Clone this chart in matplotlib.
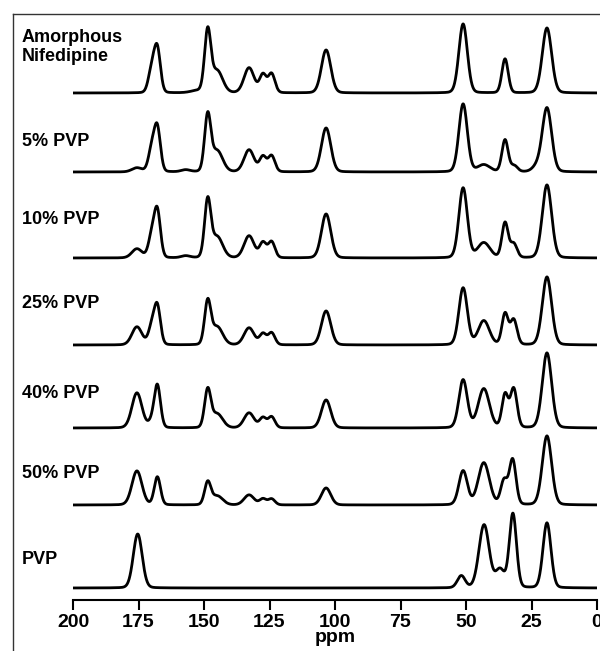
import numpy as np
import matplotlib.pyplot as plt
from matplotlib.lines import Line2D

plt.rcParams['font.family'] = ['Liberation Sans', 'DejaVu Sans']

# Sample names, top to bottom
samples = ["Amorphous\nNifedipine", "5% PVP", "10% PVP", "25% PVP",
           "40% PVP", "50% PVP", "PVP"]

# Peak lists per sample: (shift in ppm, height, fwhm in ppm)
amorphous = [(169.9, 24, 3.0), (167.8, 42, 2.8), (152.5, 2, 6.0), (148.6, 60, 2.8),
             (145.0, 22, 5.0), (132.8, 25, 4.5), (127.5, 18, 3.0), (124.2, 19, 3.0),
             (103.4, 43, 4.2), (51.1, 69, 3.8), (35.1, 34, 2.8), (19.1, 65, 4.2)]
pvp_5 = [(175.6, 4, 4.5), (169.9, 23, 3.0), (167.8, 42, 2.8), (157.0, 2, 4.0),
         (148.6, 55, 2.8), (145.0, 21, 5.0), (132.8, 22, 4.5), (127.5, 15, 3.0),
         (124.2, 16, 3.0), (103.4, 44, 4.2), (51.1, 68, 3.8), (43.2, 7, 5.5),
         (35.1, 32, 2.8), (31.6, 6, 3.0), (23.0, 5, 4.0), (19.1, 64, 4.2)]
pvp_10 = [(175.6, 9, 4.5), (169.9, 22, 3.0), (167.8, 45, 2.8), (157.0, 2, 4.0),
          (148.6, 56, 2.8), (145.0, 21, 5.0), (132.8, 22, 4.5), (127.5, 15, 3.0),
          (124.2, 16, 3.0), (103.4, 44, 4.2), (51.1, 70, 3.8), (43.2, 15, 5.5),
          (35.1, 35, 2.8), (31.8, 14, 3.0), (19.1, 73, 4.2)]
pvp_25 = [(175.6, 18, 4.5), (169.9, 18, 3.0), (167.8, 37, 2.8), (148.6, 42, 2.8),
          (145.0, 18, 5.0), (132.8, 17, 4.5), (127.5, 11, 3.0), (124.2, 12, 3.0),
          (103.4, 34, 4.2), (51.1, 57, 3.8), (43.2, 24, 5.0), (35.1, 31, 2.8),
          (31.8, 25, 3.0), (19.1, 68, 4.2)]
pvp_40 = [(175.6, 35, 4.5), (169.9, 6, 3.0), (167.8, 42, 2.8), (148.6, 37, 2.8),
          (145.0, 14, 5.0), (132.8, 15, 4.5), (127.5, 10, 3.0), (124.2, 11, 3.0),
          (103.4, 28, 4.2), (51.1, 48, 3.8), (43.2, 39, 5.0), (35.1, 33, 2.8),
          (31.8, 39, 3.0), (19.1, 75, 4.2)]
pvp_50 = [(175.6, 34, 4.5), (167.8, 28, 2.8), (148.6, 22, 2.8), (145.0, 9, 5.0),
          (132.8, 10, 4.5), (127.5, 6, 3.0), (124.2, 6, 3.0), (103.4, 17, 4.2),
          (51.1, 34, 3.8), (43.2, 42, 5.0), (35.5, 24, 3.0), (32.2, 45, 3.0),
          (19.1, 69, 4.2)]
pvp = [(175.3, 54, 4.0), (51.8, 12, 3.5), (43.1, 63, 4.6), (37.0, 18, 4.0),
       (32.1, 74, 3.2), (19.1, 65, 3.6)]

spectra = [amorphous, pvp_5, pvp_10, pvp_25, pvp_40, pvp_50, pvp]

xticks = [200, 175, 150, 125, 100, 75, 50, 25, 0]

# vertical stacking of traces and label heights (axes units = pixels)
offsets = [507, 428, 342, 255, 172, 95, 12]
label_y = [47, 142, 220, 304, 393, 474, 560]


def build_trace(peaks, ppm):
    # mostly-Gaussian pseudo-Voigt lines summed over the peak list
    y = np.zeros_like(ppm)
    for center, height, fwhm in peaks:
        s = fwhm / 2.3548
        g = np.exp(-0.5 * ((ppm - center) / s) ** 2)
        lor = 1.0 / (1.0 + ((ppm - center) / (fwhm / 2)) ** 2)
        y += height * (0.9 * g + 0.1 * lor)
    return y


fig = plt.figure(figsize=(6.0, 6.51), dpi=100)
ax = fig.add_axes([73 / 600, 51 / 651, 524 / 600, 586 / 651])

ppm = np.linspace(200, 0, 2400)
for peaks, off in zip(spectra, offsets):
    ax.plot(ppm, build_trace(peaks, ppm) + off, color='black', lw=2.0)

ax.set_xlim(200, 0)
ax.set_ylim(0, 586)
ax.set_xticks(xticks)
ax.set_xticklabels([str(t) for t in xticks], fontsize=14, fontweight='bold')
ax.tick_params(axis='x', direction='out', length=7, width=1.5, pad=3)
ax.set_yticks([])
for side in ['left', 'right', 'top']:
    ax.spines[side].set_visible(False)
ax.spines['bottom'].set_linewidth(1.5)
ax.set_xlabel("ppm", fontsize=14, fontweight='bold', labelpad=-1)
ax.patch.set_alpha(0)

# sample names on the left
for name, yy in zip(samples, label_y):
    fig.text(22 / 600, 1 - yy / 651, name, fontsize=13, fontweight='bold',
             va='center', ha='left', linespacing=1.2)

# outer frame (left and top edges)
fig.add_artist(Line2D([13 / 600, 13 / 600], [0, 637 / 651], color='#333333', lw=1.0))
fig.add_artist(Line2D([13 / 600, 1], [637 / 651, 637 / 651], color='#333333', lw=1.0))

fig.savefig("out.png", dpi=100)
